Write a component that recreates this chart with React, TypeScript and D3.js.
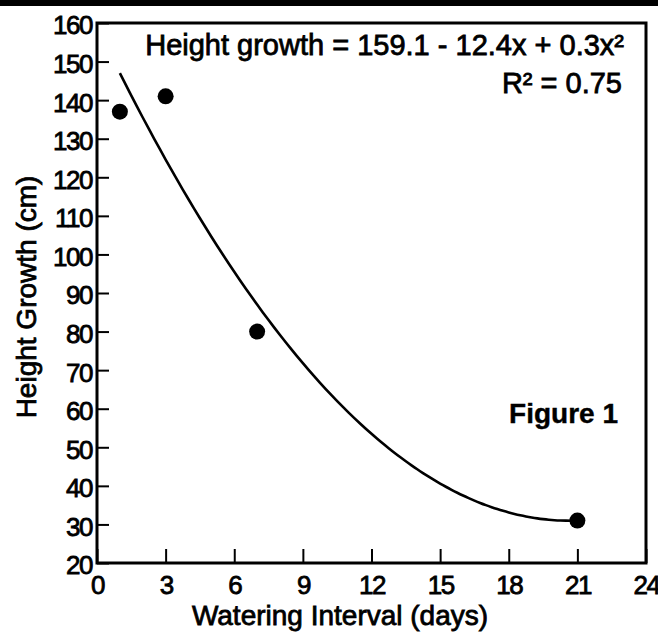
import React, { useEffect, useRef } from "react";
import * as d3 from "d3";

// Observed height growth for each watering interval
const intervals = [1, 3, 7, 21];
const heightGrowth = [137, 141, 80, 31];

// Quadratic fit: a + b*x + c*x^2, drawn over the observed interval range
const fitCoefficients = [159.1, -12.4, 0.3];
const fitRange = [1, 21];
const rSquared = "0.75";

const xTicks = [0, 3, 6, 9, 12, 15, 18, 21, 24];
const yTicks = [20, 30, 40, 50, 60, 70, 80, 90, 100, 110, 120, 130, 140, 150, 160];

const W = 658;
const H = 638;
const FONT = "'Liberation Sans', Arial, Helvetica, sans-serif";

export default function App() {
  const ref = useRef<SVGSVGElement | null>(null);

  useEffect(() => {
    const svg = d3.select(ref.current);
    svg.selectAll("*").remove();

    const x = d3.scaleLinear().domain([0, 24]).range([97, 646]);
    const y = d3.scaleLinear().domain([20, 160]).range([563, 23]);

    svg.append("rect").attr("width", W).attr("height", H).attr("fill", "#fff");
    // heavy rule across the top
    svg.append("rect").attr("x", 0).attr("y", 0).attr("width", W).attr("height", 6).attr("fill", "#000");

    // y axis
    const yAxis = d3
      .axisLeft(y)
      .tickValues(yTicks)
      .tickSize(-12)
      .tickPadding(5)
      .tickFormat(d3.format("d"));
    const gy = svg.append("g").attr("transform", "translate(97,0)").call(yAxis);
    gy.select(".domain").remove();
    gy.selectAll(".tick line").attr("stroke", "#000").attr("stroke-width", 2);
    gy.selectAll(".tick text")
      .attr("font-family", FONT)
      .attr("font-size", 26)
      .attr("letter-spacing", -1.5)
      .attr("fill", "#000")
      .attr("stroke", "#000")
      .attr("stroke-width", 0.8)
      .attr("dy", "0.42em");

    // x axis
    const xAxis = d3
      .axisBottom(x)
      .tickValues(xTicks)
      .tickSize(-14)
      .tickPadding(13)
      .tickFormat(d3.format("d"));
    const gx = svg.append("g").attr("transform", "translate(0,563)").call(xAxis);
    gx.select(".domain").remove();
    gx.selectAll(".tick line").attr("stroke", "#000").attr("stroke-width", 2);
    gx.selectAll(".tick text")
      .attr("font-family", FONT)
      .attr("font-size", 26)
      .attr("letter-spacing", -1.5)
      .attr("fill", "#000")
      .attr("stroke", "#000")
      .attr("stroke-width", 0.8)
      .attr("dy", "0.71em");

    // plot frame
    svg
      .append("rect")
      .attr("x", x(0))
      .attr("y", y(160))
      .attr("width", x(24) - x(0))
      .attr("height", y(20) - y(160))
      .attr("fill", "none")
      .attr("stroke", "#000")
      .attr("stroke-width", 3);

    // fitted curve
    const [a, b, c] = fitCoefficients;
    const fitX = d3.range(fitRange[0], fitRange[1] + 0.001, 0.25);
    const line = d3
      .line<number>()
      .x((d) => x(d))
      .y((d) => y(a + b * d + c * d * d))
      .curve(d3.curveMonotoneX);
    svg
      .append("path")
      .attr("d", line(fitX))
      .attr("fill", "none")
      .attr("stroke", "#000")
      .attr("stroke-width", 2.6);

    // observations
    svg
      .selectAll("circle.obs")
      .data(intervals)
      .enter()
      .append("circle")
      .attr("class", "obs")
      .attr("cx", (d) => x(d))
      .attr("cy", (_d, i) => y(heightGrowth[i]))
      .attr("r", 8)
      .attr("fill", "#000");

    const txt = (
      tx: number,
      ty: number,
      s: string,
      size: number,
      anchor: string,
      weight = "normal"
    ) =>
      svg
        .append("text")
        .attr("x", tx)
        .attr("y", ty)
        .attr("font-family", FONT)
        .attr("font-size", size)
        .attr("font-weight", weight)
        .attr("text-anchor", anchor)
        .attr("fill", "#000")
        .attr("stroke", "#000")
        .attr("stroke-width", weight === "bold" ? 0.4 : 0.8)
        .text(s);

    const fmt = (v: number) => Math.abs(v).toFixed(1);
    txt(
      624,
      55,
      `Height growth = ${fmt(a)} ${b < 0 ? "-" : "+"} ${fmt(b)}x ${c < 0 ? "-" : "+"} ${fmt(c)}x²`,
      29,
      "end"
    );
    txt(622, 93, `R² = ${rSquared}`, 29, "end");
    txt(618, 423, "Figure 1", 28, "end", "bold");

    // axis titles
    txt(340, 625, "Watering Interval (days)", 28, "middle");
    txt(0, 0, "Height Growth (cm)", 28, "middle").attr(
      "transform",
      "translate(36,297) rotate(-90)"
    );
  }, []);

  return (
    <svg
      ref={ref}
      width={W}
      height={H}
      style={{ position: "absolute", left: 0, top: 0, display: "block" }}
    />
  );
}
